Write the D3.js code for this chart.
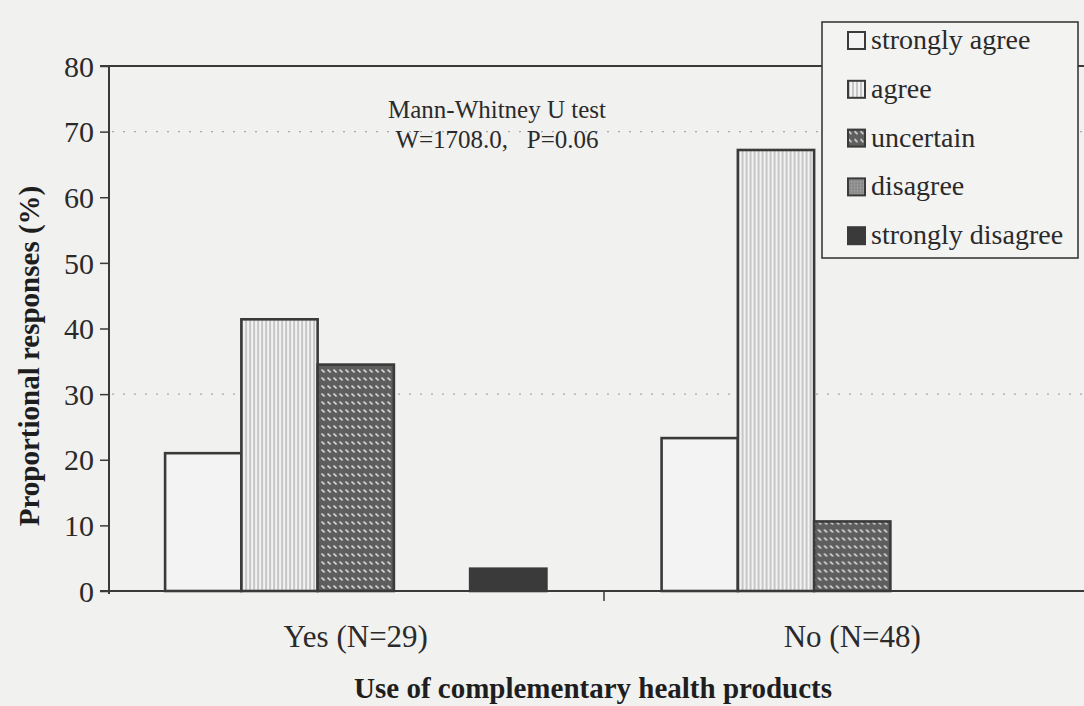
<!DOCTYPE html>
<html><head><meta charset="utf-8">
<script src="https://cdn.jsdelivr.net/npm/d3@7"></script>
<style>
body{margin:0;background:#f1f1f0;}
svg{display:block;}
svg text{font-family:"Liberation Serif","DejaVu Serif",serif !important;}
</style></head><body>
<svg id="c" width="1084" height="706"></svg>
<script>
const groups = ["Yes (N=29)", "No (N=48)"];
const responses = ["strongly agree", "agree", "uncertain", "disagree", "strongly disagree"];
const yesValues = [21.0, 41.4, 34.5, 0, 3.4];
const noValues = [23.3, 67.2, 10.6, 0, 0];
const yTicks = [0, 10, 20, 30, 40, 50, 60, 70, 80];
const gridValues = [30, 70];
const annotationLines = ["Mann-Whitney U test", "W=1708.0,   P=0.06"];
const xTitle = "Use of complementary health products";
const yTitle = "Proportional responses (%)";

const seriesByGroup = [yesValues, noValues];

const svg = d3.select("#c");
const defs = svg.append("defs");

const pAgree = defs.append("pattern").attr("id","pAgree").attr("patternUnits","userSpaceOnUse").attr("width",4).attr("height",4);
pAgree.append("rect").attr("width",4).attr("height",4).attr("fill","#f2f2f2");
pAgree.append("line").attr("x1",1).attr("x2",1).attr("y1",0).attr("y2",4).attr("stroke","#9a9a9a").attr("stroke-width",1);

const pUnc = defs.append("pattern").attr("id","pUnc").attr("patternUnits","userSpaceOnUse").attr("width",6).attr("height",8);
pUnc.append("rect").attr("width",6).attr("height",8).attr("fill","#5e5e5e");
pUnc.append("path").attr("d","M0.5,1.5 L3.5,4.5").attr("stroke","#dcdcdc").attr("stroke-width",1.6).attr("fill","none");

const pDis = defs.append("pattern").attr("id","pDis").attr("patternUnits","userSpaceOnUse").attr("width",3).attr("height",3);
pDis.append("rect").attr("width",3).attr("height",3).attr("fill","#8c8c8c");
pDis.append("rect").attr("width",1).attr("height",1).attr("fill","#b0b0b0");

const fills = {"strongly agree":"#f3f3f3","agree":"url(#pAgree)","uncertain":"url(#pUnc)","disagree":"url(#pDis)","strongly disagree":"#3a3a3a"};

const y = d3.scaleLinear().domain([0,80]).range([591,66]);
const x0 = d3.scaleBand().domain(groups).range([109,1099]).paddingInner(0.232).paddingOuter(0.113);
const x1 = d3.scaleBand().domain(responses).range([0, x0.bandwidth()]);

svg.append("g").selectAll("line").data(gridValues).join("line")
  .attr("x1",112).attr("x2",1084).attr("y1",d=>y(d)).attr("y2",d=>y(d))
  .attr("stroke","#a8a8a8").attr("stroke-width",1.2).attr("stroke-dasharray","2,9");

const gg = svg.append("g").selectAll("g").data(groups).join("g")
  .attr("transform",d=>`translate(${x0(d)},0)`);
gg.selectAll("rect").data((g,i)=>responses.map((r,j)=>({r, v:seriesByGroup[i][j]})).filter(d=>d.v>0))
  .join("rect")
  .attr("x",d=>x1(d.r)).attr("width",x1.bandwidth())
  .attr("y",d=>y(d.v)).attr("height",d=>y(0)-y(d.v))
  .attr("fill",d=>fills[d.r]).attr("stroke","#3a3a3a").attr("stroke-width",2.6);

const yAxis = d3.axisLeft(y).tickValues(yTicks).tickSize(9).tickPadding(6);
const ya = svg.append("g").attr("transform","translate(109,0)").call(yAxis);
ya.select(".domain").remove();
ya.selectAll(".tick line").attr("stroke","#3a3a3a").attr("stroke-width",1.5);
ya.selectAll(".tick text").style("font-size","30px").attr("fill","#2a2a2a").attr("dy","0.34em");
svg.append("line").attr("x1",109).attr("x2",109).attr("y1",66).attr("y2",594).attr("stroke","#3a3a3a").attr("stroke-width",2);
svg.append("line").attr("x1",100).attr("x2",1084).attr("y1",66).attr("y2",66).attr("stroke","#3a3a3a").attr("stroke-width",2);

const xa = svg.append("g").attr("transform","translate(0,591)").call(d3.axisBottom(x0).tickSize(0).tickPadding(34));
xa.select(".domain").remove();
xa.selectAll(".tick text").style("font-size","31px").attr("fill","#2a2a2a");
svg.append("line").attr("x1",100).attr("x2",1084).attr("y1",591).attr("y2",591).attr("stroke","#3a3a3a").attr("stroke-width",2.2);
const sep = (x0(groups[0]) + x0.bandwidth() + x0(groups[1]))/2;
svg.append("line").attr("x1",sep).attr("x2",sep).attr("y1",591).attr("y2",601).attr("stroke","#3a3a3a").attr("stroke-width",1.5);

svg.append("text").attr("x",593).attr("y",698).attr("text-anchor","middle")
  .style("font-size","29px").attr("font-weight","bold").attr("fill","#1e1e1e").text(xTitle);
svg.append("text").attr("transform","translate(39,356) rotate(-90)").attr("text-anchor","middle")
  .style("font-size","29px").attr("font-weight","bold").attr("fill","#1e1e1e").text(yTitle);

svg.append("g").selectAll("text").data(annotationLines).join("text")
  .attr("x",497).attr("y",(d,i)=>118+i*30).attr("text-anchor","middle")
  .style("font-size","25px").style("white-space","pre").attr("fill","#2a2a2a").text(d=>d);

const lg = svg.append("g");
lg.append("rect").attr("x",822).attr("y",22).attr("width",256).attr("height",236)
  .attr("fill","#f3f3f2").attr("stroke","#3a3a3a").attr("stroke-width",1.6);
const li = lg.selectAll("g.li").data(responses).join("g").attr("class","li")
  .attr("transform",(d,i)=>`translate(848,${32+i*48.8})`);
li.append("rect").attr("width",17).attr("height",17).attr("fill",d=>fills[d])
  .attr("stroke","#3a3a3a").attr("stroke-width",2);
li.append("text").attr("x",23).attr("y",17).style("font-size","28px").attr("fill","#2a2a2a").text(d=>d);
</script>
</body></html>
